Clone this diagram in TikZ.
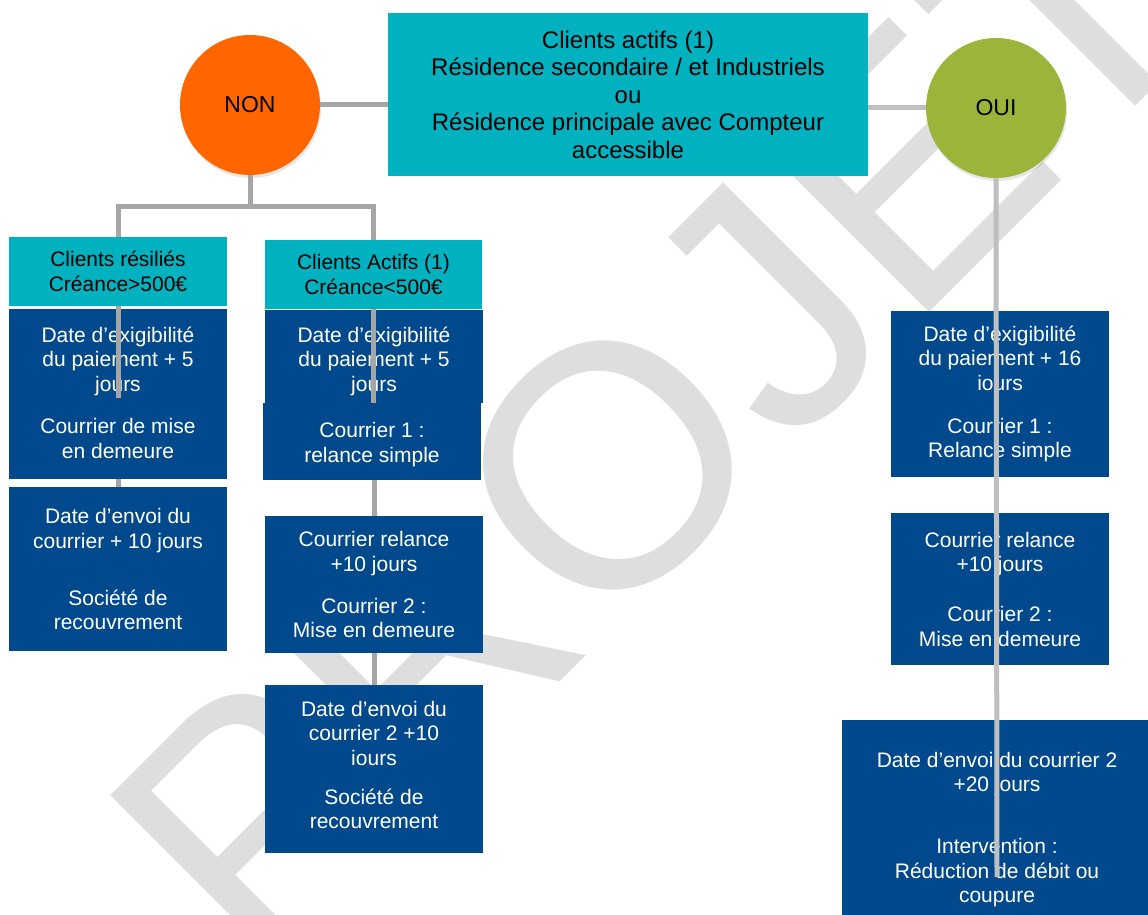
\documentclass[tikz,border=0pt]{standalone}
\usepackage{fontspec}
\setmainfont{Liberation Sans}
\usepackage{tikz}
\usetikzlibrary{shadows}

\definecolor{bleufonce}{RGB}{0,73,140}
\definecolor{turquoise}{RGB}{0,178,192}
\definecolor{orangenon}{RGB}{255,102,0}
\definecolor{vertoui}{RGB}{155,181,59}
\definecolor{grislien}{RGB}{166,166,166}
\definecolor{grisclair}{RGB}{191,191,191}
\definecolor{filig}{RGB}{222,222,222}

\newcommand{\taille}{\fontsize{21}{24.5}\selectfont}
% petites retouches verticales du texte
\newcommand{\haut}[1]{\rule{0pt}{#1}}
\newcommand{\bas}[1]{\rule[-#1]{0pt}{#1}}

\tikzset{
  blocbleu/.style={fill=bleufonce, text=white, font=\taille, align=center,
    inner sep=0pt, minimum width=218pt},
  blocturq/.style={fill=turquoise, text=black, font=\taille, align=center,
    inner sep=0pt, minimum width=218pt},
  rond/.style={circle, minimum size=140pt, inner sep=0pt,
    font=\fontsize{23}{27}\selectfont,
    drop shadow={shadow xshift=1pt, shadow yshift=-3pt, opacity=.2}},
  lien/.style={grislien, line width=5pt},
  lienclair/.style={grisclair, line width=5pt},
  filigrane/.style={text=filig, font=\fontsize{345}{345}\selectfont,
    rotate=45, inner sep=0pt}
}

\begin{document}
\begin{tikzpicture}[x=1pt,y=-1pt]
    \useasboundingbox (0,0) rectangle (1148,915);
    % filigrane
    \node[filigrane] (projet) at (656,418) {PROJET};

    \node[fill=turquoise, font=\fontsize{24}{27.5}\selectfont, align=center,
      minimum width=480pt, minimum height=163pt, inner sep=0pt] (titre) at (628,94.5)
      {Clients actifs (1)\\Résidence secondaire / et Industriels\\ou\\Résidence principale avec Compteur\\accessible};
    \node[rond, fill=orangenon] (non) at (250,105) {NON};
    \node[rond, fill=vertoui] (oui) at (996,108) {OUI};

    % branche NON
    \node[blocturq, minimum height=69pt] (resil) at (118,271.5) {Clients résiliés\\Créance>500€};
    \node[blocturq, minimum width=217pt, minimum height=69pt] (actifs) at (373.5,274.5) {Clients Actifs (1)\\Créance<500€};

    \node[blocbleu, minimum height=89pt] (exigA) at (118,353.5) {\haut{31pt}Date d’exigibilité\\du paiement + 5\\jours};
    \node[blocbleu, minimum height=81pt] (miseA) at (118,438.5) {Courrier de mise\\en demeure};
    \node[blocbleu, minimum height=164pt] (envoiA) at (118,569) {Date d’envoi du\\courrier + 10 jours\\[32.5pt]Société de\\recouvrement};

    \node[blocbleu, minimum height=93pt] (exigB) at (374,356.5) {\haut{25pt}Date d’exigibilité\\du paiement + 5\\jours};
    \node[blocbleu, minimum height=77pt] (courB) at (372,441.5) {\haut{21.5pt}Courrier 1 :\\relance simple};
    \node[blocbleu, minimum height=137pt] (relB) at (374,584.5) {Courrier relance\\+10 jours\\[17.5pt]Courrier 2 :\\Mise en demeure};
    \node[blocbleu, minimum height=168pt] (envoiB) at (374,769) {Date d’envoi du\\courrier 2 +10\\iours\\[14.5pt]Société de\\recouvrement\bas{8pt}};

    % branche OUI
    \node[blocbleu, minimum height=166pt] (exigC) at (1000,394) {Date d’exigibilité\\du paiement + 16\\iours\\[18.5pt]Courrier 1 :\\Relance simple};
    \node[blocbleu, minimum height=152pt] (relC) at (1000,589) {Courrier relance\\+10 jours\\[25.5pt]Courrier 2 :\\Mise en demeure};
    \node[blocbleu, minimum width=310pt, minimum height=205pt] (intC) at (997,822.5) {\haut{29.5pt}Date d’envoi du courrier 2\\+20 jours\\[37.5pt]Intervention :\\Réduction de débit ou\\coupure};

    % liens
    \coordinate (fourche) at (250,206);
    \coordinate (finC) at (997,877);
    \draw[lien] (non.east) -- (non.east -| titre.west);
    \draw[lienclair] (titre.east |- oui.west) -- (oui.west);
    \draw[lien] (non.south) -- (fourche);
    \draw[lien] (fourche) -| (resil.north);
    \draw[lien] (fourche) -| (actifs.north);
    \draw[lien] (resil.south) -- (miseA.north);
    \draw[lien] (miseA.south) -- (envoiA.north);
    \draw[lien] (actifs.south) -- (actifs.south |- courB.north);
    \draw[lien] (relB.north |- courB.south) -- (relB.north);
    \draw[lien] (relB.south) -- (envoiB.north);
    \draw[lienclair] (oui.south) -- (finC);
\end{tikzpicture}
\end{document}
